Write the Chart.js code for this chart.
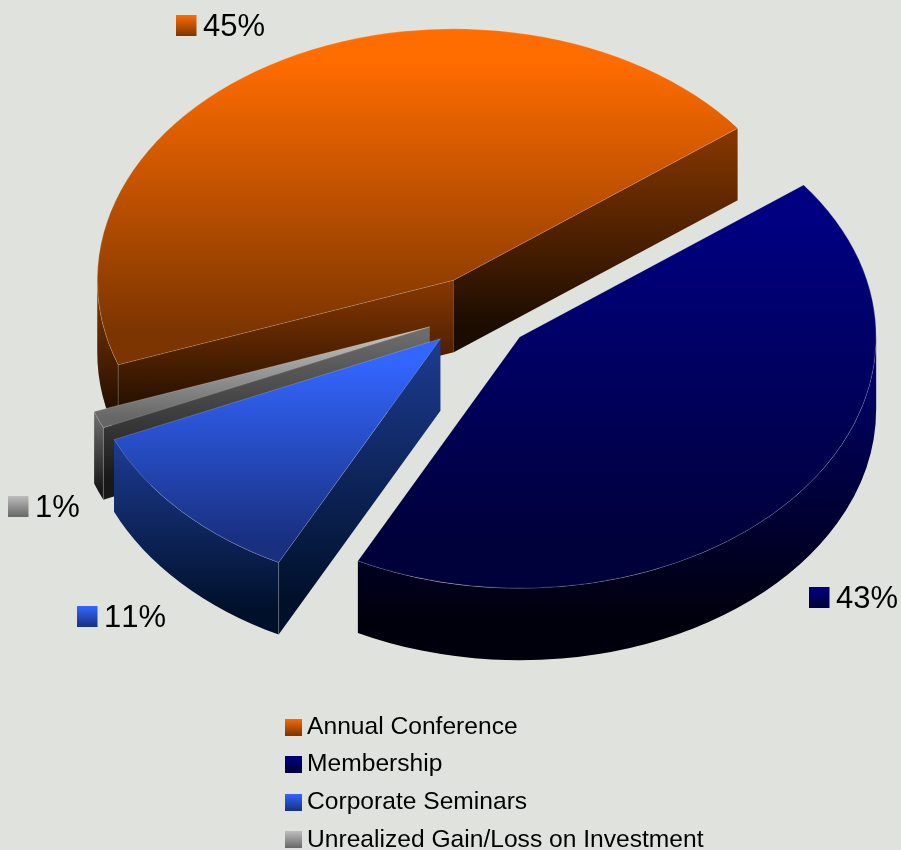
<!DOCTYPE html>
<html>
<head>
<meta charset="utf-8">
<script src="https://cdn.jsdelivr.net/npm/chart.js@4/dist/chart.umd.js"></script>
<style>
html,body{margin:0;padding:0;background:#e0e3dd;overflow:hidden}
canvas{display:block}
</style>
</head>
<body>
<canvas id="c" width="901" height="850"></canvas>
<script>
const categories = ['Annual Conference', 'Membership', 'Corporate Seminars', 'Unrealized Gain/Loss on Investment'];
const shares = [45.14, 42.83, 10.92, 1.11];

const topGradients = [['#ff6c00', '#7c3500'], ['#000080', '#00003a'], ['#3366ff', '#193080'], ['#bdbdbd', '#666666']];
const sideGradients = [['#843600', '#1c0c00'], ['#000070', '#00000c'], ['#1c3a8e', '#00102a'], ['#6c6c6c', '#181818']];
const swatchGradients = [['#ff6c00', '#7c3500'], ['#000080', '#00003a'], ['#3366ff', '#193080'], ['#bdbdbd', '#666666']];

const pie3d = {
  id: 'pie3d',
  beforeDatasetsDraw(chart, args, o) {
    const ctx = chart.ctx;
    const meta = chart.getDatasetMeta(0);
    const arcs = meta.data.map((el, i) => {
      const mid = (el.startAngle + el.endAngle) / 2;
      return {el, i, mid, ox: Math.cos(mid) * o.explode, oy: Math.sin(mid) * o.explode};
    }).sort((a, b) => a.oy - b.oy);
    const d = o.depth / o.tilt;
    for (const {el, i, ox, oy} of arcs) {
      const {x, y, startAngle: s, endAngle: e, outerRadius: R} = el;
      ctx.save();
      ctx.translate(o.centerX, o.centerY);
      ctx.scale(1, o.tilt);
      ctx.translate(ox, oy);
      ctx.translate(-x, -y);
      const ey = a => y + R * Math.sin(a);
      const ex = a => x + R * Math.cos(a);
      const grad = (y0, y1, cols, a, b) => {
        const g = ctx.createLinearGradient(0, y0, 0, y1);
        g.addColorStop(a, cols[0]); g.addColorStop(b, cols[1]);
        return g;
      };
      const edge = 'rgba(255,255,255,0.28)';
      const faces = [];
      if (Math.cos(s) < 0) faces.push(s);
      if (Math.cos(e) > 0) faces.push(e);
      for (const a of faces) {
        ctx.beginPath();
        ctx.moveTo(x, y);
        ctx.lineTo(ex(a), ey(a));
        ctx.lineTo(ex(a), ey(a) + d);
        ctx.lineTo(x, y + d);
        ctx.closePath();
        ctx.fillStyle = grad(Math.min(y, ey(a)), Math.max(y, ey(a)) + d, sideGradients[i], 0.04, 0.88);
        ctx.fill();
      }
      for (let k = -1; k <= 1; k++) {
        const a0 = Math.max(s, 2 * Math.PI * k), a1 = Math.min(e, 2 * Math.PI * k + Math.PI);
        if (a1 <= a0) continue;
        ctx.beginPath();
        ctx.arc(x, y, R, a0, a1);
        ctx.arc(x, y + d, R, a1, a0, true);
        ctx.closePath();
        let top = Math.min(ey(a0), ey(a1));
        if (faces.length === 0) top = y;
        if (a0 <= 2 * Math.PI * k) top = y;
        const bot = Math.max(ey(a0), ey(a1), (a0 < 2 * Math.PI * k + Math.PI / 2 && a1 > 2 * Math.PI * k + Math.PI / 2) ? y + R : -Infinity) + d;
        ctx.fillStyle = grad(top, bot, sideGradients[i], 0.04, 0.88);
        ctx.fill();
      }
      ctx.lineWidth = 0.8;
      ctx.strokeStyle = edge;
      for (const a of [s, e]) {
        if ((a === s && Math.cos(s) < 0) || (a === e && Math.cos(e) > 0)) {
          ctx.beginPath();
          ctx.moveTo(ex(a), ey(a));
          ctx.lineTo(ex(a), ey(a) + d);
          ctx.stroke();
        }
      }
      let minY = Math.min(y, ey(s), ey(e)), maxY = Math.max(y, ey(s), ey(e));
      for (let k = -2; k <= 2; k++) {
        const up = -Math.PI / 2 + 2 * Math.PI * k, down = Math.PI / 2 + 2 * Math.PI * k;
        if (s < up && e > up) minY = y - R;
        if (s < down && e > down) maxY = y + R;
      }
      const saved = el.options;
      el.options = Object.assign({}, saved, {backgroundColor: grad(minY, maxY, topGradients[i], 0.1, 0.9)});
      el.draw(ctx);
      el.options = saved;
      ctx.restore();
    }
    return false;
  },
  afterDraw(chart, args, o) {
    const ctx = chart.ctx;
    ctx.save();
    ctx.font = o.percentFont;
    ctx.fontKerning = 'none';
    ctx.textBaseline = 'alphabetic';
    ctx.textAlign = 'left';
    o.percentPlaces.forEach((p, i) => {
      const g = ctx.createLinearGradient(0, p.y, 0, p.y + 21);
      g.addColorStop(0, swatchGradients[i][0]);
      g.addColorStop(1, swatchGradients[i][1]);
      ctx.fillStyle = g;
      ctx.fillRect(p.x, p.y, 20.5, 21);
      ctx.fillStyle = '#000';
      ctx.fillText(Math.round(shares[i]) + '%', p.x + 27, p.y + 21);
    });
    ctx.restore();
  }
};

function swatchCanvas(cols) {
  const c = document.createElement('canvas');
  c.width = 17; c.height = 17;
  const x = c.getContext('2d');
  const g = x.createLinearGradient(0, 0, 0, 17);
  g.addColorStop(0, cols[0]); g.addColorStop(1, cols[1]);
  x.fillStyle = g; x.fillRect(0, 0, 17, 17);
  return c;
}

new Chart(document.getElementById('c'), {
  type: 'pie',
  data: {
    labels: categories,
    datasets: [{
      data: shares,
      backgroundColor: topGradients.map(g => g[0]),
      borderColor: 'rgba(255,255,255,0.28)',
      borderWidth: 0.8
    }]
  },
  plugins: [pie3d],
  options: {
    responsive: false,
    animation: false,
    events: [],
    rotation: 250.3,
    radius: 356.5,
    layout: {padding: {left: 279.25, top: 701.75, right: -400, bottom: -16}},
    plugins: {
      tooltip: {enabled: false},
      title: {display: false},
      pie3d: {
        centerX: 479, centerY: 313, tilt: 0.705, explode: 53, depth: 72,
        percentFont: '31px "Liberation Sans", Arial, sans-serif',
        percentPlaces: [{x: 176, y: 15}, {x: 809, y: 587}, {x: 77, y: 606}, {x: 8, y: 496}]
      },
      legend: {
        display: true,
        position: 'left',
        align: 'start',
        labels: {
          color: '#000',
          font: {family: '"Liberation Sans", Arial, sans-serif', size: 24.6},
          padding: 13,
          usePointStyle: true,
          boxHeight: 17,
          pointStyleWidth: 2.5,
          generateLabels: () => categories.map((text, i) => ({
            text, index: i, pointStyle: swatchCanvas(swatchGradients[i]),
            fillStyle: swatchGradients[i][0], strokeStyle: 'transparent', lineWidth: 0, hidden: false
          }))
        }
      }
    }
  }
});
</script>
</body>
</html>
